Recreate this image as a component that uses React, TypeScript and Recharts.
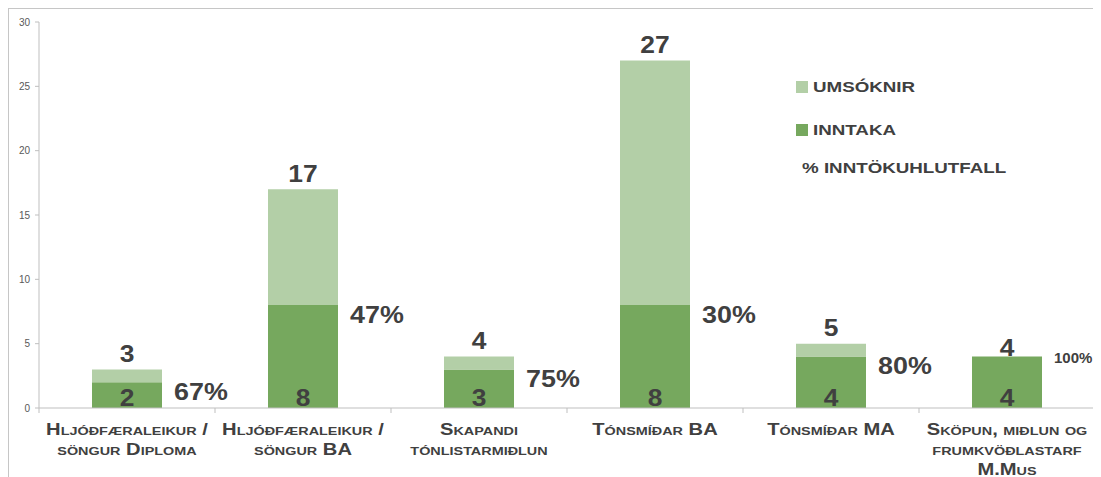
import React from 'react';
import { BarChart, Bar, XAxis, YAxis, LabelList } from 'recharts';

const categories = [
  'Hljóðfæraleikur /\nsöngur Diploma',
  'Hljóðfæraleikur /\nsöngur BA',
  'Skapandi\ntónlistarmiðlun',
  'Tónsmíðar BA',
  'Tónsmíðar MA',
  'Sköpun, miðlun og\nfrumkvöðlastarf\nM.Mus',
];
const umsoknir = [3, 17, 4, 27, 5, 4];
const inntaka = [2, 8, 3, 8, 4, 4];
const hlutfall = ['67%', '47%', '75%', '30%', '80%', '100%'];
const yTicks = [0, 5, 10, 15, 20, 25, 30];
const legendLabels = ['UMSÓKNIR', 'INNTAKA', '% INNTÖKUHLUTFALL'];

const data = categories.map((name, i) => ({
  name,
  inntaka: inntaka[i],
  rest: umsoknir[i] - inntaka[i],
  umsoknir: umsoknir[i],
  hlutfall: hlutfall[i],
}));

const LIGHT = '#b3cfa7';
const DARK = '#76a85e';
const TEXT = '#404040';
const FONT = '"Liberation Sans", Arial, sans-serif';

const W = 1092;
const H = 468;
const MARGIN = { top: 13, right: 6, left: 6, bottom: 9 };
const Y_WIDTH = 24;
const BAND = (W - MARGIN.left - MARGIN.right - Y_WIDTH) / categories.length;

const Wide = ({ x, y, sx, anchor, size, variant, baseline, children }: any) => (
  <text
    transform={`translate(${x} ${y}) scale(${sx} 1)`}
    x={0}
    y={0}
    textAnchor={anchor}
    dominantBaseline={baseline}
    fill={TEXT}
    style={{ fontFamily: FONT, fontSize: size, fontWeight: 'bold', fontVariant: variant }}
  >
    {children}
  </text>
);

const XTick = (props: any) => {
  const { x, y, payload, index } = props;
  const lines = String(payload.value).split('\n');
  return (
    <g>
      <line x1={x - BAND / 2} x2={x - BAND / 2} y1={y - 5} y2={y} stroke="#bfbfbf" />
      {index === categories.length - 1 && (
        <line x1={x + BAND / 2} x2={x + BAND / 2} y1={y - 5} y2={y} stroke="#bfbfbf" />
      )}
      {lines.map((l, i) => (
        <Wide key={i} x={x} y={y + 22 + i * 20} sx={1.26} anchor="middle" size={16} variant="small-caps">
          {l}
        </Wide>
      ))}
    </g>
  );
};

const BarLabels = (props: any) => {
  const { x, y, width, height, index } = props;
  const d = data[index];
  const perUnit = height / d.inntaka;
  const top = y - d.rest * perUnit;
  const off = d.rest === 0 ? 9 : 16;
  const small = d.hlutfall.length > 3;
  return (
    <g>
      <Wide x={x + width / 2} y={top - off} sx={1.1} anchor="middle" size={24} baseline="central">
        {d.umsoknir}
      </Wide>
      <Wide x={x + width / 2} y={y + height - 11} sx={1.1} anchor="middle" size={24} baseline="central">
        {d.inntaka}
      </Wide>
      <Wide
        x={x + width + 12}
        y={y + (small ? 1 : 9)}
        sx={small ? 1 : 1.12}
        anchor="start"
        size={small ? 15 : 24}
        baseline="central"
      >
        {d.hlutfall}
      </Wide>
    </g>
  );
};

const legendText = {
  display: 'inline-block',
  transform: 'scaleX(1.25)',
  transformOrigin: 'left center',
  whiteSpace: 'nowrap',
} as const;

const LegendBox = () => (
  <div
    style={{
      position: 'absolute',
      left: 787,
      top: 69,
      fontFamily: FONT,
      fontSize: 15,
      fontWeight: 'bold',
      color: TEXT,
      width: 300,
      height: 110,
    }}
  >
    <div style={{ position: 'absolute', left: 0, top: 0, display: 'flex', alignItems: 'center' }}>
      <span style={{ display: 'inline-block', width: 12, height: 12, background: LIGHT, marginRight: 5 }} />
      <span style={legendText}>{legendLabels[0]}</span>
    </div>
    <div style={{ position: 'absolute', left: 0, top: 43, display: 'flex', alignItems: 'center' }}>
      <span style={{ display: 'inline-block', width: 12, height: 12, background: DARK, marginRight: 5 }} />
      <span style={legendText}>{legendLabels[1]}</span>
    </div>
    <div style={{ position: 'absolute', left: 6, top: 81 }}>
      <span style={legendText}>{legendLabels[2]}</span>
    </div>
  </div>
);

export default function App() {
  return (
    <>
      <style>{`html,body{overflow:hidden}`}</style>
      <div
        style={{
          width: W,
          height: H,
          borderTop: '1px solid #c6c6c6',
          borderLeft: '1px solid #c6c6c6',
          background: '#fff',
          position: 'relative',
        }}
      >
        <BarChart width={W} height={H} data={data} margin={MARGIN} barSize={70}>
          <XAxis
            dataKey="name"
            axisLine={{ stroke: '#bfbfbf' }}
            tickLine={false}
            tickSize={5}
            tickMargin={0}
            height={60}
            interval={0}
            tick={<XTick />}
          />
          <YAxis
            domain={[0, 30]}
            ticks={yTicks}
            width={Y_WIDTH}
            axisLine={{ stroke: '#bfbfbf' }}
            tickLine={{ stroke: '#bfbfbf' }}
            tickSize={4}
            tickMargin={5}
            tick={{ fill: '#595959', fontSize: 10, fontFamily: FONT }}
          />
          <Bar dataKey="inntaka" stackId="a" fill={DARK} isAnimationActive={false}>
            <LabelList dataKey="inntaka" content={<BarLabels />} />
          </Bar>
          <Bar dataKey="rest" stackId="a" fill={LIGHT} isAnimationActive={false} />
        </BarChart>
        <LegendBox />
      </div>
    </>
  );
}
